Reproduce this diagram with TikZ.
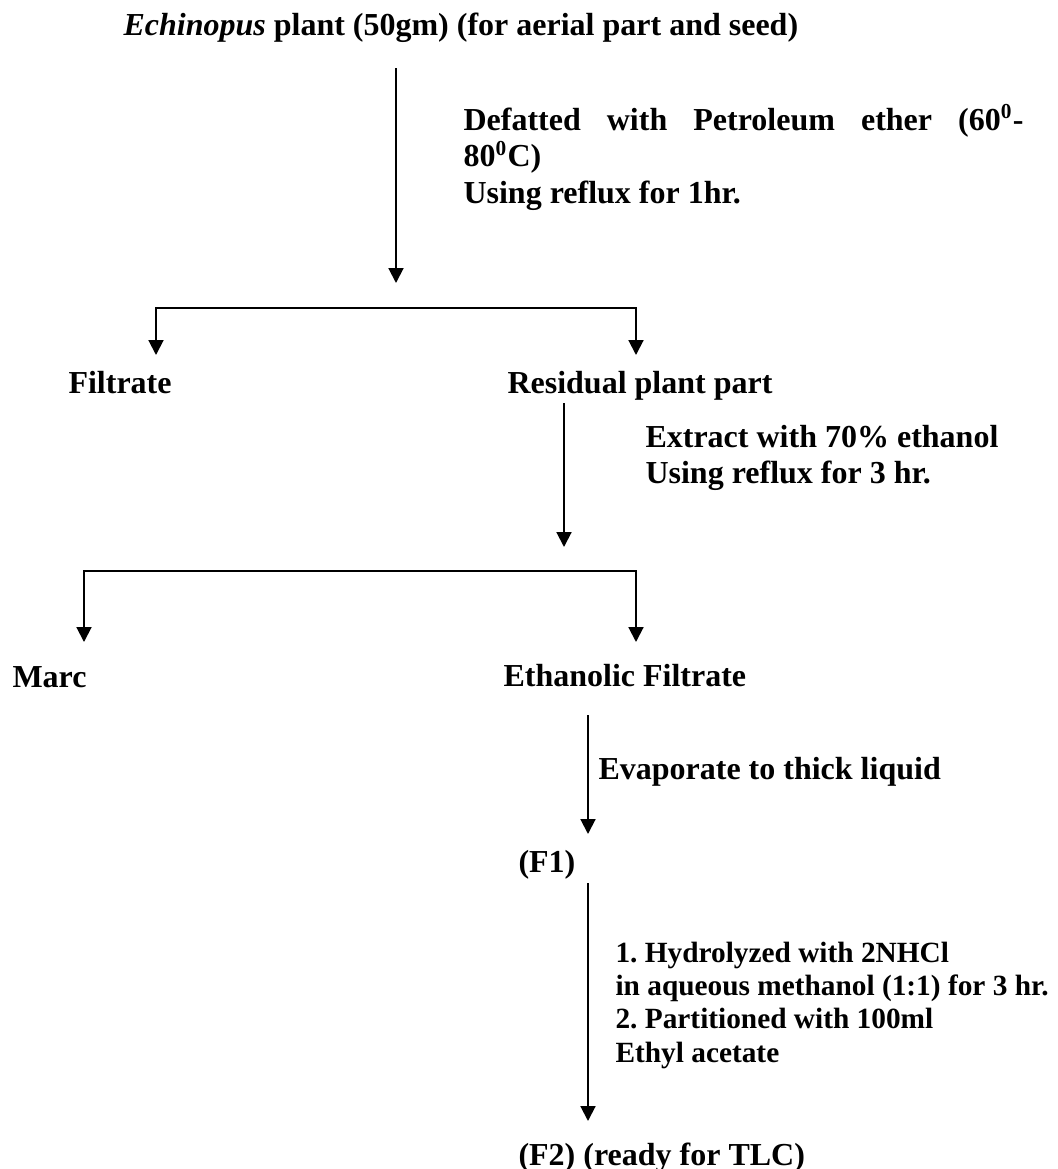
\documentclass[tikz,border=0pt]{standalone}
\usepackage{fontspec}
\setmainfont{Liberation Serif}
\usetikzlibrary{arrows.meta}
\frenchspacing
\begin{document}
\begin{tikzpicture}[x=0.375pt,y=-0.375pt,
  lbl/.style={anchor=base west,inner sep=0pt,font=\fontsize{12}{13.8}\selectfont\bfseries},
  lblsm/.style={anchor=base west,inner sep=0pt,font=\fontsize{11}{12.5}\selectfont\bfseries},
  tip/.tip={Triangle[length=5.6pt,width=5.6pt]},
  flow/.style={line width=0.75pt,-tip},
  split/.style={line width=0.75pt,tip-tip}]
\useasboundingbox (0,0) rectangle (1058,1169);

% texts
\node[lbl] (title) at (123,35) {\textit{Echinopus} plant (50gm) (for aerial part and seed)};
\node[lbl] (defat) at (463,130) {\parbox[t]{215pt}{\makebox[210pt][s]{Defatted with Petroleum ether (60\textsuperscript{0}-}\\80\textsuperscript{0}C)\\Using reflux for 1hr.}};
\node[lbl] (filtrate) at (68,393) {Filtrate};
\node[lbl] (residual) at (507,393) {Residual plant part};
\node[lbl] (extract) at (645,447) {\parbox[t]{160pt}{Extract with 70\% ethanol\\Using reflux for 3 hr.}};
\node[lbl] (marc) at (12,687) {Marc};
\node[lbl] (ethanolic) at (503,686) {Ethanolic Filtrate};
\node[lbl] (evap) at (598,779) {Evaporate to thick liquid};
\node[lbl] (f1) at (518,872) {(F1)};
\node[lblsm] (hydro) at (615,962) {\parbox[t]{170pt}{1. Hydrolyzed with 2NHCl\\in aqueous methanol (1:1) for 3 hr.\\2. Partitioned with 100ml\\Ethyl acetate}};
\node[lbl] (f2) at (518,1165) {(F2) (ready for TLC)};

% connector end points
\coordinate (a1s) at (396,68);
\coordinate (a1e) at (396,283);
\coordinate (s1l) at (156,355);
\coordinate (s1r) at (636,308);
\coordinate (s1e) at (636,355);
\coordinate (a2s) at (564,403);
\coordinate (a2e) at (564,547);
\coordinate (s2l) at (84,642);
\coordinate (s2r) at (636,571);
\coordinate (s2e) at (636,642);
\coordinate (a3s) at (588,715);
\coordinate (a3e) at (588,834);
\coordinate (a4s) at (588,883);
\coordinate (a4e) at (588,1121);

% connectors
\draw[flow] (a1s) -- (a1e);
\draw[split] (s1l) |- (s1r) -- (s1e);
\draw[flow] (a2s) -- (a2e);
\draw[split] (s2l) |- (s2r) -- (s2e);
\draw[flow] (a3s) -- (a3e);
\draw[flow] (a4s) -- (a4e);
\end{tikzpicture}
\end{document}
